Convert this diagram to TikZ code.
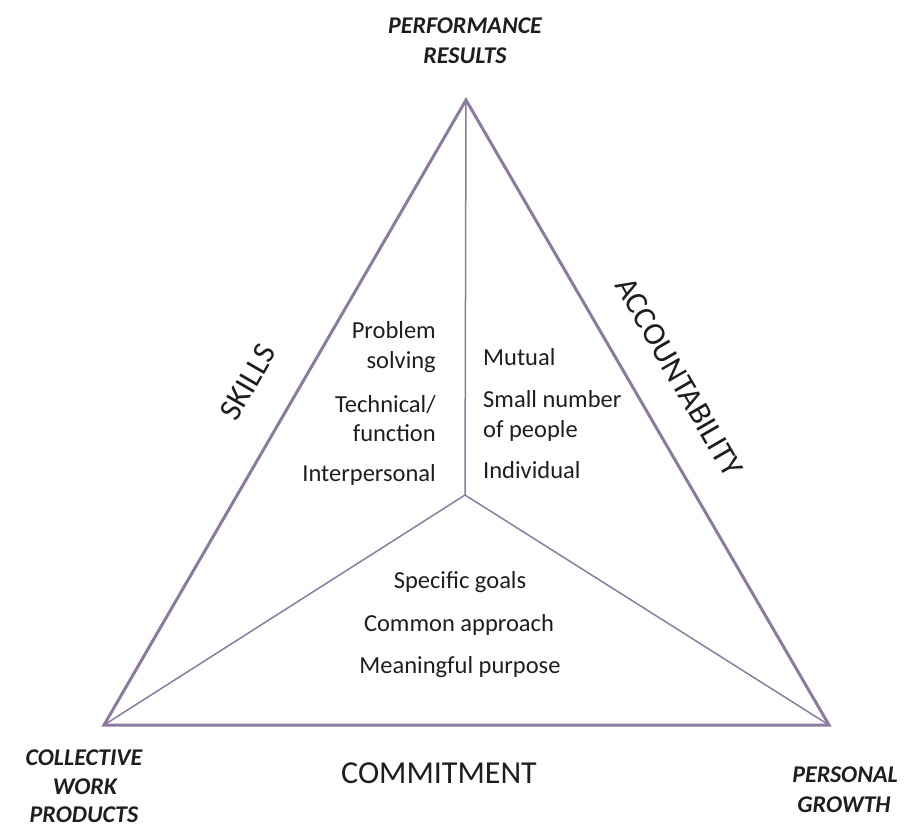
\documentclass[tikz,border=0pt]{standalone}
\usepackage{fontspec}
\setmainfont{Carlito}
\definecolor{edgec}{RGB}{140,122,160}
\definecolor{txt}{RGB}{30,30,30}
\tikzset{
  outer/.style={draw=edgec, line width=3pt, line join=miter},
  inner/.style={draw=edgec, line width=1.5pt},
  small/.style={inner sep=0pt, text=txt, font=\fontsize{24.5}{29}\selectfont},
  big/.style={inner sep=0pt, text=txt, font=\fontsize{32}{38}\selectfont},
  corner/.style={inner sep=0pt, text=txt, font=\fontsize{24}{29}\selectfont\bfseries\itshape, anchor=base},
}
\begin{document}
\begin{tikzpicture}[x=1pt,y=-1pt]
\useasboundingbox (0,0) rectangle (918,836);
\coordinate (T) at (466,100);
\coordinate (L) at (104,725);
\coordinate (R) at (829,725);
\coordinate (C) at (465,495);
\draw[inner] (T) -- (C);
\draw[inner] (L) -- (C) -- (R);
\draw[outer] (T) -- (L) -- (R) -- cycle;

% corner labels
\node[corner] (pr1) at (465,33) {PERFORMANCE};
\node[corner] (pr2) at (465,63) {RESULTS};
\node[corner] (cw1) at (84,765) {COLLECTIVE};
\node[corner] (cw2) at (85,794) {WORK};
\node[corner] (cw3) at (84,822) {PRODUCTS};
\node[corner] (pg1) at (845,782) {PERSONAL};
\node[corner] (pg2) at (844,812) {GROWTH};

% side labels
\node[big, rotate=60] (skills) at (248,382) {SKILLS};
\node[big, rotate=-60] (acc) at (679,377) {ACCOUNTABILITY};
\node[big, anchor=base] (comm) at (439,783) {COMMITMENT};

% left block
\node[small, anchor=base east] (l1) at (436,338) {Problem};
\node[small, anchor=base east] (l2) at (436,368) {solving};
\node[small, anchor=base east] (l3) at (436,412) {Technical/};
\node[small, anchor=base east] (l4) at (436,441) {function};
\node[small, anchor=base east] (l5) at (436,481) {Interpersonal};

% right block
\node[small, anchor=base west] (r1) at (483,365) {Mutual};
\node[small, anchor=base west] (r2) at (483,407) {Small number};
\node[small, anchor=base west] (r3) at (483,437) {of people};
\node[small, anchor=base west] (r4) at (483,478) {Individual};

% bottom block
\node[small, anchor=base] (b1) at (460,588) {Specific goals};
\node[small, anchor=base] (b2) at (459,631) {Common approach};
\node[small, anchor=base] (b3) at (460,673) {Meaningful purpose};
\end{tikzpicture}
\end{document}
